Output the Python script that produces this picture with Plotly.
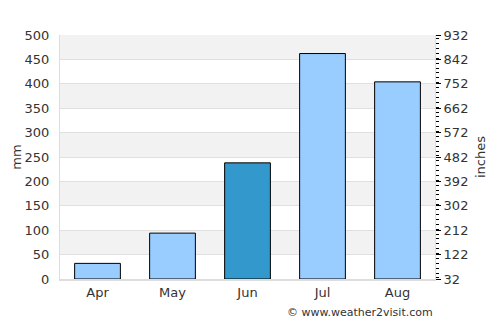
import plotly.graph_objects as go

months = ["Apr", "May", "Jun", "Jul", "Aug"]
rain_mm = [32, 94, 238, 462, 404]
bar_colors = ["#99ccff", "#99ccff", "#3399cc", "#99ccff", "#99ccff"]
mm_ticks = [0, 50, 100, 150, 200, 250, 300, 350, 400, 450, 500]
inch_ticks = [32, 122, 212, 302, 392, 482, 572, 662, 752, 842, 932]

fig = go.Figure()
fig.add_trace(go.Bar(
    x=months, y=rain_mm,
    marker=dict(color=bar_colors, line=dict(color="#000000", width=1)),
    hoverinfo="skip", showlegend=False,
))
fig.add_trace(go.Scatter(
    x=months, y=[None] * len(months), yaxis="y2",
    mode="markers", showlegend=False, hoverinfo="skip",
))

# alternating background bands
shapes = []
for i in range(len(mm_ticks) - 1):
    if i % 2 == 1:
        shapes.append(dict(type="rect", xref="paper", yref="y",
                           x0=0, x1=1, y0=mm_ticks[i], y1=mm_ticks[i + 1],
                           fillcolor="#f2f2f2", line=dict(width=0), layer="below"))

font = "DejaVu Sans, sans-serif"
fig.update_layout(
    width=500, height=325,
    margin=dict(l=60, r=65, t=35, b=46, autoexpand=False),
    paper_bgcolor="white", plot_bgcolor="white",
    bargap=0.39,
    shapes=shapes,
    font=dict(family=font, size=13, color="#333333"),
    xaxis=dict(
        showgrid=False, showline=True, linecolor="#dddddd", linewidth=2,
        ticks="", tickfont=dict(size=13, color="#333333"), automargin=False,
    ),
    yaxis=dict(
        range=[0, 500], tickvals=mm_ticks, showgrid=True, gridcolor="#e0e0e0",
        gridwidth=1, showline=True, linecolor="#dddddd", linewidth=1,
        zeroline=False, ticks="", ticklabelstandoff=7, automargin=False,
        title=dict(text="mm", standoff=0, font=dict(size=13, color="#333333")),
        tickfont=dict(size=13, color="#333333"),
    ),
    yaxis2=dict(
        overlaying="y", side="right", range=[32, 932], tickvals=inch_ticks,
        showgrid=False, zeroline=False, showline=True, linecolor="#dddddd",
        ticks="outside", ticklen=5, tickcolor="#000000", tickwidth=1,
        automargin=False,
        minor=dict(dtick=18, ticks="outside", ticklen=3, tickcolor="#000000", tickwidth=1),
        title=dict(text="inches", standoff=8, font=dict(size=13, color="#333333")),
        tickfont=dict(size=13, color="#333333"),
    ),
    annotations=[dict(
        text="© www.weather2visit.com", xref="paper", yref="paper",
        x=1, y=-0.139, xanchor="right", yanchor="middle", showarrow=False,
        font=dict(size=11, color="#333333", family=font),
    )],
)

fig.write_html("out.html")
